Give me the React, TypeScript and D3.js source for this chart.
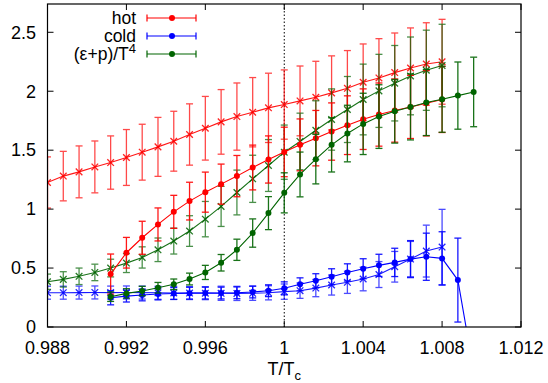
import React from "react";
import * as d3 from "d3";

// temperatures (T/Tc)
const tFull = [0.988, 0.9888, 0.9896, 0.9904, 0.9912, 0.992, 0.9928, 0.9936, 0.9944, 0.9952, 0.996, 0.9968, 0.9976,
  0.9984, 0.9992, 1.0, 1.0008, 1.0016, 1.0024, 1.0032, 1.004, 1.0048, 1.0056, 1.0064, 1.0072, 1.008];
const tShort = [0.9912, 0.992, 0.9928, 0.9936, 0.9944, 0.9952, 0.996, 0.9968, 0.9976, 0.9984, 0.9992, 1.0,
  1.0008, 1.0016, 1.0024, 1.0032, 1.004, 1.0048, 1.0056, 1.0064, 1.0072, 1.008, 1.0088, 1.0096];

// "x" curves (no legend entry)
const hotX = [1.226, 1.28, 1.316, 1.358, 1.395, 1.438, 1.483, 1.528, 1.576, 1.633, 1.686, 1.74, 1.785, 1.822,
  1.859, 1.887, 1.918, 1.949, 1.986, 2.025, 2.076, 2.113, 2.158, 2.197, 2.231, 2.25];
const hotXErr = [0.217, 0.21, 0.22, 0.22, 0.226, 0.237, 0.237, 0.25, 0.254, 0.26, 0.27, 0.274, 0.285, 0.294,
  0.294, 0.294, 0.296, 0.305, 0.314, 0.32, 0.325, 0.333, 0.336, 0.34, 0.35, 0.36];
const coldX = [0.291, 0.291, 0.292, 0.293, 0.292, 0.293, 0.292, 0.29, 0.289, 0.288, 0.287, 0.286, 0.285, 0.286,
  0.29, 0.3, 0.308, 0.33, 0.356, 0.379, 0.407, 0.445, 0.511, 0.576, 0.644, 0.678];
const coldXErr = [0.055, 0.055, 0.055, 0.055, 0.055, 0.055, 0.055, 0.055, 0.055, 0.055, 0.055, 0.06, 0.06, 0.06,
  0.06, 0.065, 0.065, 0.073, 0.085, 0.094, 0.1, 0.11, 0.13, 0.15, 0.22, 0.32];
const epsX = [0.384, 0.404, 0.43, 0.463, 0.5, 0.542, 0.59, 0.655, 0.729, 0.814, 0.915, 1.023, 1.141, 1.257, 1.37,
  1.483, 1.574, 1.669, 1.76, 1.845, 1.93, 2.003, 2.068, 2.13, 2.178, 2.218];
const epsXErr = [0.065, 0.065, 0.07, 0.07, 0.075, 0.08, 0.09, 0.1, 0.11, 0.13, 0.15, 0.17, 0.19, 0.2, 0.22, 0.23,
  0.24, 0.25, 0.26, 0.28, 0.3, 0.31, 0.32, 0.33, 0.34, 0.35];

// circle curves (legend)
const hot = [0.449, 0.63, 0.757, 0.87, 0.977, 1.068, 1.144, 1.212, 1.28, 1.353, 1.421, 1.485, 1.545, 1.602, 1.658,
  1.712, 1.763, 1.802, 1.836, 1.867, 1.898, 1.93];
const hotErr = [0.17, 0.13, 0.14, 0.14, 0.14, 0.16, 0.17, 0.17, 0.175, 0.19, 0.2, 0.21, 0.22, 0.235, 0.243, 0.249,
  0.257, 0.268, 0.268, 0.268, 0.277, 0.28];
const cold = [0.248, 0.262, 0.272, 0.28, 0.284, 0.287, 0.288, 0.288, 0.29, 0.297, 0.308, 0.328, 0.362, 0.392, 0.426,
  0.463, 0.494, 0.523, 0.548, 0.576, 0.596, 0.582, 0.398, -0.37];
const coldErr = [0.06, 0.05, 0.05, 0.05, 0.05, 0.05, 0.05, 0.05, 0.05, 0.05, 0.05, 0.055, 0.055, 0.06, 0.068,
  0.073, 0.085, 0.094, 0.12, 0.157, 0.2, 0.226, 0.356, 0.3];
const eps = [0.257, 0.285, 0.305, 0.333, 0.362, 0.407, 0.463, 0.545, 0.655, 0.797, 0.966, 1.138, 1.294, 1.424,
  1.545, 1.641, 1.723, 1.785, 1.83, 1.867, 1.904, 1.932, 1.963, 1.994];
const epsErr = [0.04, 0.04, 0.04, 0.045, 0.045, 0.05, 0.06, 0.07, 0.09, 0.12, 0.14, 0.17, 0.19, 0.21, 0.23, 0.24,
  0.26, 0.27, 0.27, 0.28, 0.28, 0.28, 0.285, 0.295];

const xTicks = [0.988, 0.992, 0.996, 1, 1.004, 1.008, 1.012];
const xTickLabels = ["0.988", "0.992", "0.996", "1", "1.004", "1.008", "1.012"];
const yTicks = [0, 0.5, 1, 1.5, 2, 2.5];
const yTickLabels = ["0", "0.5", "1", "1.5", "2", "2.5"];

const RED = "#ff0000";
const BLUE = "#0000ff";
const GREEN = "#006400";
const FONT = "'Liberation Sans', Arial, sans-serif";

const W = 548, H = 383;
const left = 47.5, right = 521, top = 4, bottom = 327;

const x = d3.scaleLinear().domain([0.988, 1.012]).range([left, right]);
const y = d3.scaleLinear().domain([0, 2.74]).range([bottom, top]);

type Pt = { t: number; v: number; e: number };
const zip = (ts: number[], vs: number[], es: number[]): Pt[] =>
  vs.map((v, i) => ({ t: ts[i], v, e: es[i] }));

const line = d3.line<Pt>().x((d) => x(d.t)).y((d) => y(d.v));

const Series = ({ pts, color, marker, barOpacity }: { pts: Pt[]; color: string; marker: "x" | "o"; barOpacity: number }) => (
  <g>
    <g stroke={color} strokeWidth={1.3} opacity={barOpacity}>
      {pts.map((d, i) => {
        const cx = x(d.t);
        const y1 = y(d.v + d.e), y0 = y(d.v - d.e);
        return (
          <g key={i}>
            <line x1={cx} x2={cx} y1={y1} y2={y0} />
            <line x1={cx - 3.5} x2={cx + 3.5} y1={y1} y2={y1} />
            <line x1={cx - 3.5} x2={cx + 3.5} y1={y0} y2={y0} />
          </g>
        );
      })}
    </g>
    <path d={line(pts) || ""} fill="none" stroke={color} strokeWidth={1.1} opacity={marker === "x" ? 0.9 : 1} />
    {pts.map((d, i) => {
      const cx = x(d.t), cy = y(d.v);
      return marker === "o" ? (
        <circle key={i} cx={cx} cy={cy} r={3} fill={color} />
      ) : (
        <path key={i} d={`M${cx - 3.3},${cy - 3.3}L${cx + 3.3},${cy + 3.3}M${cx - 3.3},${cy + 3.3}L${cx + 3.3},${cy - 3.3}`}
          stroke={color} strokeWidth={1.3} opacity={0.85} />
      );
    })}
  </g>
);

const legend = [
  { label: "hot", color: RED },
  { label: "cold", color: BLUE },
  { label: "eps", color: GREEN },
];

export default function App() {
  return (
    <svg width={W} height={H} style={{ position: "absolute", left: 0, top: 0, background: "#fff" }} fontFamily={FONT}>
      <defs>
        <clipPath id="plot">
          <rect x={left} y={top} width={right - left} height={bottom - top} />
        </clipPath>
      </defs>
      <rect width={W} height={H} fill="#fff" />

      {/* dotted Tc line */}
      <line x1={x(1)} x2={x(1)} y1={top} y2={bottom} stroke="#000" strokeWidth={1} strokeDasharray="1.5,2" />

      <g clipPath="url(#plot)">
        <Series pts={zip(tFull, hotX, hotXErr)} color={RED} marker="x" barOpacity={0.7} />
        <Series pts={zip(tFull, coldX, coldXErr)} color={BLUE} marker="x" barOpacity={0.7} />
        <Series pts={zip(tFull, epsX, epsXErr)} color={GREEN} marker="x" barOpacity={0.7} />
        <Series pts={zip(tShort, hot, hotErr)} color={RED} marker="o" barOpacity={0.9} />
        <Series pts={zip(tShort, cold, coldErr)} color={BLUE} marker="o" barOpacity={0.9} />
        <Series pts={zip(tShort, eps, epsErr)} color={GREEN} marker="o" barOpacity={0.9} />
      </g>

      {/* frame + ticks */}
      <rect x={left} y={top} width={right - left} height={bottom - top} fill="none" stroke="#000" strokeWidth={1.2} />
      {xTicks.map((t, i) => (
        <g key={i}>
          <line x1={x(t)} x2={x(t)} y1={bottom} y2={bottom - 6} stroke="#000" />
          <line x1={x(t)} x2={x(t)} y1={top} y2={top + 6} stroke="#000" />
          <text x={x(t)} y={354} textAnchor="middle" fontSize={18}>{xTickLabels[i]}</text>
        </g>
      ))}
      {yTicks.map((v, i) => (
        <g key={i}>
          <line x1={left} x2={left + 6} y1={y(v)} y2={y(v)} stroke="#000" />
          <line x1={right} x2={right - 6} y1={y(v)} y2={y(v)} stroke="#000" />
          <text x={36} y={y(v)} dy="0.35em" textAnchor="end" fontSize={18}>{yTickLabels[i]}</text>
        </g>
      ))}

      {/* axis title */}
      <text x={x(1)} y={375} textAnchor="middle" fontSize={18}>
        T/T<tspan fontSize={13} dy={5}>c</tspan>
      </text>

      {/* legend */}
      {legend.map((l, i) => {
        const ly = 18 + i * 18;
        return (
          <g key={i}>
            <text x={136} y={ly} dy="0.35em" textAnchor="end" fontSize={17.5}>
              {l.label === "eps" ? (
                <>
                  (ε+p)/T<tspan fontSize={13} dy={-7}>4</tspan>
                </>
              ) : (
                l.label
              )}
            </text>
            <g stroke={l.color} strokeWidth={1.2}>
              <line x1={147} x2={196} y1={ly} y2={ly} />
              <line x1={147} x2={147} y1={ly - 3.5} y2={ly + 3.5} />
              <line x1={196} x2={196} y1={ly - 3.5} y2={ly + 3.5} />
            </g>
            <circle cx={172} cy={ly} r={3} fill={l.color} />
          </g>
        );
      })}
    </svg>
  );
}
